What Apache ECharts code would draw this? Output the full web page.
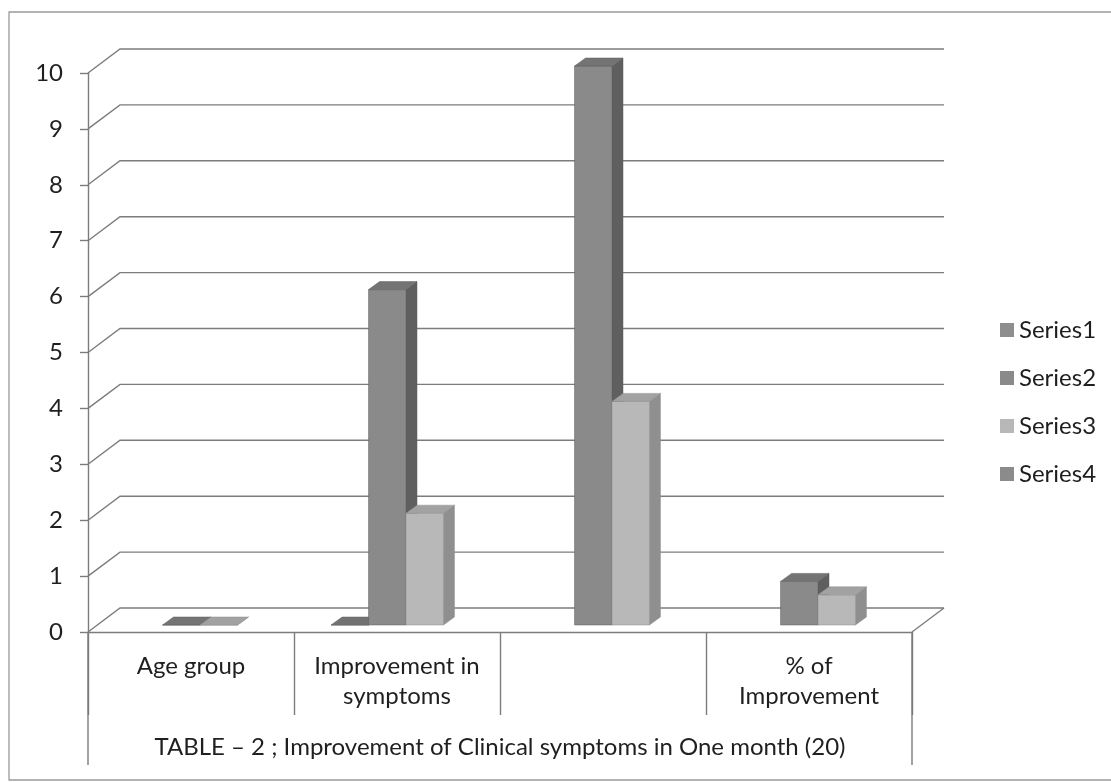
<!DOCTYPE html>
<html>
<head>
<meta charset="utf-8">
<script src="https://cdn.jsdelivr.net/npm/echarts@6/dist/echarts.min.js"></script>
<style>
  html, body { margin: 0; padding: 0; background: #ffffff; }
  #chart { width: 1111px; height: 782px; }
</style>
</head>
<body>
<div id="chart"></div>
<script>
// ---- chart data ----
const categories = ['Age group', 'Improvement in\nsymptoms', '', '% of\nImprovement'];
const seriesNames = ['Series1', 'Series2', 'Series3', 'Series4'];
const series1 = [null, 0, null, null];
const series2 = [0, 6, 10, 0.78];
const series3 = [0, 2, 4, 0.54];
const series4 = [null, null, null, null];
const yTicks = [0, 1, 2, 3, 4, 5, 6, 7, 8, 9, 10];
const axisTitle = 'TABLE \u2013 2 ; Improvement of Clinical symptoms in One month (20)';

// ---- look ----
const FONT = 'Lato';
const TEXT = '#1f1f1f';
const LINE = '#7c7c7c';
// shading of each series: front, side, top faces
const faces = [
  { front: '#8e8e8e', side: '#666666', top: '#727272' },
  { front: '#8a8a8a', side: '#5f5f5f', top: '#747474' },
  { front: '#b8b8b8', side: '#8f8f8f', top: '#a2a2a2' },
  { front: '#8b8b8b', side: '#656565', top: '#757575' }
];
// 3D projection offsets (pixels)
const WALL = [32, -24];      // depth of the back wall
const FRONT = [9, -7];       // front face of the columns
const THICK = [11, -8];      // depth of a column
const GAP_RATIO = 1.5;       // gap between clusters, in column widths
const TABLE_DEPTH = 133;     // outer category dividers below the floor

function toPairs(arr) {
  const out = [];
  arr.forEach((v, i) => { if (v !== null && v !== undefined) out.push([i, v]); });
  return out;
}

function barRenderer(k) {
  const f = faces[k];
  return function (params, api) {
    const cat = api.value(0);
    const v = api.value(1);
    const base = api.coord([cat, 0]);
    const top = api.coord([cat, v]);
    const band = api.size([1, 0])[0];
    const w = band / (seriesNames.length + GAP_RATIO);
    const x0 = base[0] + FRONT[0] + (k - seriesNames.length / 2) * w;
    const x1 = x0 + w;
    const yb = base[1] + FRONT[1];
    const yt = top[1] + FRONT[1];
    const dx = THICK[0], dy = THICK[1];
    return {
      type: 'group',
      children: [
        { type: 'polygon', shape: { points: [[x1, yt], [x1 + dx, yt + dy], [x1 + dx, yb + dy], [x1, yb]] },
          style: { fill: f.side, stroke: f.side, lineWidth: 0.5 } },
        { type: 'rect', shape: { x: x0, y: yt, width: w, height: Math.max(yb - yt, 0) },
          style: { fill: f.front, stroke: f.side, lineWidth: 0.5 } },
        { type: 'polygon', shape: { points: [[x0, yt], [x0 + dx, yt + dy], [x1 + dx, yt + dy], [x1, yt]] },
          style: { fill: f.top, stroke: f.side, lineWidth: 0.5 } }
      ]
    };
  };
}

function frameRenderer(params, api) {
  const cs = params.coordSys;
  const L = cs.x, R = cs.x + cs.width;
  const st = { stroke: LINE, lineWidth: 1.4, fill: null };
  const children = [];
  yTicks.forEach(t => {
    const y = api.coord([0, t])[1];
    children.push({ type: 'polyline', shape: { points: [[L, y], [L + WALL[0], y + WALL[1]], [R + WALL[0], y + WALL[1]]] }, style: st });
  });
  const y0 = api.coord([0, 0])[1];
  children.push({ type: 'line', shape: { x1: R, y1: y0, x2: R + WALL[0], y2: y0 + WALL[1] }, style: st });
  children.push({ type: 'line', shape: { x1: L, y1: y0, x2: L, y2: y0 + TABLE_DEPTH }, style: st });
  children.push({ type: 'line', shape: { x1: R, y1: y0, x2: R, y2: y0 + TABLE_DEPTH }, style: st });
  return { type: 'group', children };
}

const chart = echarts.init(document.getElementById('chart'), null, { renderer: 'canvas' });

const barSeries = [series1, series2, series3, series4].map((arr, k) => ({
  name: seriesNames[k],
  type: 'custom',
  renderItem: barRenderer(k),
  encode: { x: 0, y: 1 },
  data: toPairs(arr),
  itemStyle: { color: faces[k].front },
  z: 3
}));

chart.setOption({
  animation: false,
  backgroundColor: '#ffffff',
  textStyle: { fontFamily: FONT, color: TEXT },
  graphic: [
    { type: 'rect', shape: { x: 9, y: 12, width: 1110, height: 768 },
      style: { fill: null, stroke: '#9a9a9a', lineWidth: 1.3 }, z: -10 }
  ],
  grid: { left: 88, right: 199, top: 73, bottom: 150 },
  legend: {
    data: seriesNames.map(n => ({ name: n, icon: 'rect' })),
    orient: 'vertical',
    left: 995,
    top: 312,
    itemWidth: 14,
    itemHeight: 14,
    itemGap: 22,
    textStyle: { fontFamily: FONT, fontSize: 24, color: TEXT, lineHeight: 26 }
  },
  xAxis: {
    type: 'category',
    data: categories,
    boundaryGap: true,
    axisLine: { show: true, lineStyle: { color: LINE, width: 1.4 } },
    axisTick: { show: true, interval: 0, length: 83, lineStyle: { color: LINE, width: 1.4 } },
    axisLabel: { interval: 0, margin: 19, fontFamily: FONT, fontSize: 24, lineHeight: 30, color: TEXT, align: 'center' },
    splitLine: { show: false },
    name: axisTitle,
    nameLocation: 'middle',
    nameGap: 100,
    nameTextStyle: { fontFamily: FONT, fontSize: 24, lineHeight: 30, color: TEXT }
  },
  yAxis: {
    type: 'value',
    min: 0,
    max: 10,
    interval: 1,
    axisLine: { show: true, lineStyle: { color: LINE, width: 1.4 } },
    axisTick: { show: true, length: 8, lineStyle: { color: LINE, width: 1.4 } },
    axisLabel: { margin: 25, fontFamily: FONT, fontSize: 24, color: TEXT },
    splitLine: { show: false }
  },
  series: [
    {
      name: 'frame',
      type: 'custom',
      renderItem: frameRenderer,
      encode: { x: 0, y: 1 },
      data: [[0, 0]],
      silent: true,
      z: 1
    }
  ].concat(barSeries)
});
</script>
</body>
</html>
